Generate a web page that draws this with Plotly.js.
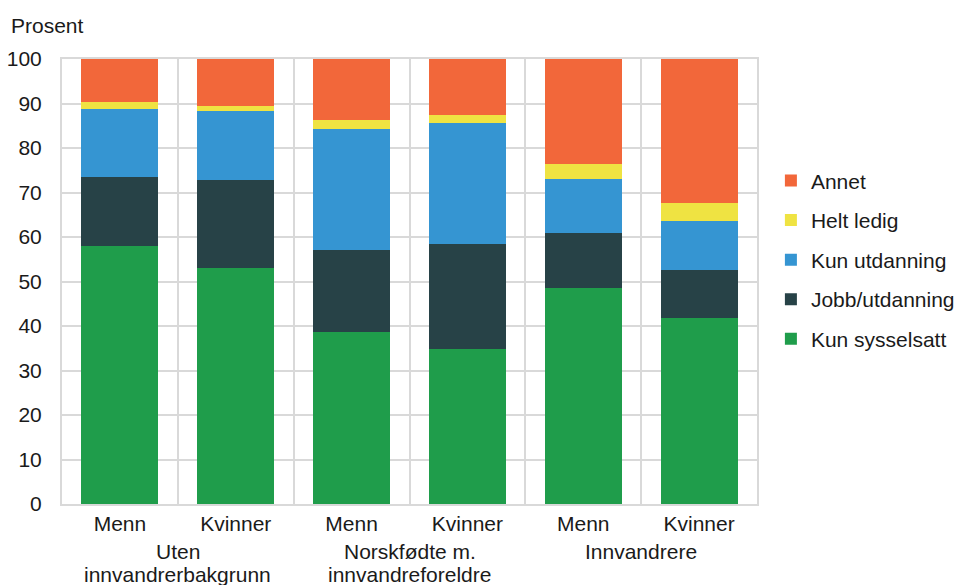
<!DOCTYPE html>
<html>
<head>
<meta charset="utf-8">
<script src="https://cdn.plot.ly/plotly-3.0.1.min.js"></script>
<style>html,body{margin:0;padding:0;background:#fff;}#chart{width:958px;height:585px;}</style>
</head>
<body>
<div id="chart"></div>
<script>
var categories = ["U_Menn", "U_Kvinner", "N_Menn", "N_Kvinner", "I_Menn", "I_Kvinner"];
var tickLabels = ["Menn", "Kvinner", "Menn", "Kvinner", "Menn", "Kvinner"];
var groupLine1 = ["Uten", "Norskfødte m.", "Innvandrere"];
var groupLine2 = ["innvandrerbakgrunn", "innvandreforeldre", ""];
var groupPos = [0.5, 2.5, 4.5];

var kunSysselsatt = [58.0, 53.1, 38.7, 34.9, 48.5, 41.8];
var jobbUtdanning = [15.4, 19.8, 18.3, 23.6, 12.4, 10.7];
var kunUtdanning  = [15.4, 15.5, 27.2, 27.2, 12.1, 11.0];
var heltLedig     = [1.5, 1.1, 2.1, 1.8, 3.5, 4.2];
var annet         = [9.7, 10.5, 13.7, 12.5, 23.5, 32.3];

var seriesNames = ["Kun sysselsatt", "Jobb/utdanning", "Kun utdanning", "Helt ledig", "Annet"];
var seriesData = [kunSysselsatt, jobbUtdanning, kunUtdanning, heltLedig, annet];
var colors = ["#1f9d4b", "#274247", "#3595d2", "#efe342", "#f2673a"];

var traces = seriesNames.map(function(n, i){
  return {type:"bar", name:n, x:categories, y:seriesData[i], width:0.665,
    marker:{color:colors[i], line:{width:0}}, legendgroup:"g"+i, legendrank:100-i, hoverinfo:"skip"};
});

var font = {family:"Liberation Sans, Arial, sans-serif", size:21, color:"#1a1a1a"};
var annotations = [{text:"Prosent", xref:"paper", yref:"paper", x:-0.0763, y:1.0, xanchor:"left", yanchor:"bottom", yshift:20, showarrow:false, font:font}];
for (var g=0; g<3; g++){
  annotations.push({text:groupLine1[g], xref:"x", yref:"paper", x:groupPos[g], y:0, yshift:-34, yanchor:"top", showarrow:false, font:font});
  if (groupLine2[g]) annotations.push({text:groupLine2[g], xref:"x", yref:"paper", x:groupPos[g], y:0, yshift:-57, yanchor:"top", showarrow:false, font:font});
}

var layout = {
  width:958, height:585,
  margin:{l:62, r:201, t:59, b:81, autoexpand:false},
  barmode:"stack",
  paper_bgcolor:"#fff", plot_bgcolor:"#fff",
  font:font,
  showlegend:true,
  legend:{traceorder:"grouped", tracegroupgap:9.3, xref:"paper", x:1.02, yref:"container", y:0.726, yanchor:"top", xanchor:"left", font:font, itemwidth:30},
  xaxis:{type:"category", tickmode:"array", tickvals:categories, ticktext:tickLabels, tickson:"boundaries",
    ticks:"", showgrid:true, gridcolor:"#d9d9d9", gridwidth:2, showline:true, linecolor:"#d9d9d9", linewidth:2, mirror:true,
    tickfont:font, range:[-0.5, 5.5]},
  yaxis:{range:[0,100], dtick:10, tick0:0, showgrid:true, gridcolor:"#d9d9d9", gridwidth:2, showline:true, linecolor:"#d9d9d9", linewidth:2, mirror:true,
    ticks:"", ticklabelstandoff:14, tickfont:font, zeroline:false},
  annotations:annotations
};
Plotly.newPlot("chart", traces, layout, {displayModeBar:false, staticPlot:true});
</script>
</body>
</html>
